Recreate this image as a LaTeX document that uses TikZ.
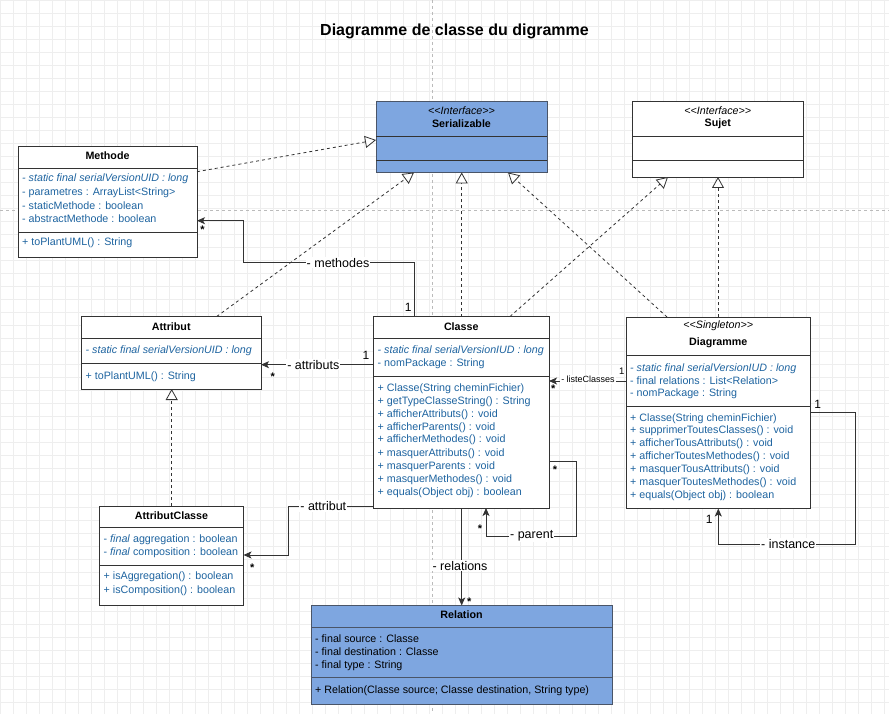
\documentclass[tikz,border=0pt]{standalone}
\usepackage{fontspec}
\setmainfont{Liberation Sans}
\usetikzlibrary{arrows.meta}
\definecolor{memc}{RGB}{30,100,160}
\definecolor{ifblue}{HTML}{7EA6E0}
\definecolor{bluebd}{HTML}{4A5568}
\definecolor{boxc}{HTML}{333333}
\definecolor{linec}{HTML}{333333}
\definecolor{gridc}{HTML}{EEEEEE}
\definecolor{pagec}{HTML}{BBBBBB}
\newcommand\mfont{\fontsize{10.7}{12}\selectfont}
\newcommand\lfont{\fontsize{12.5}{14}\selectfont}
\newcommand\mline[4]{\node[mem] (#1) at (#2,#3) {#4};}
\newcommand\bline[4]{\node[bmem] (#1) at (#2,#3) {#4};}
\tikzset{
  cls/.style={draw=boxc, line width=0.9pt, fill=white, inner sep=0pt, outer sep=0pt, anchor=north west},
  bluecls/.style={cls, fill=ifblue, draw=bluebd},
  sepline/.style={draw=boxc, line width=0.9pt},
  mem/.style={anchor=west, inner sep=0pt, font=\mfont, text=memc},
  bmem/.style={mem, text=black},
  cname/.style={inner sep=0pt, font=\mfont\bfseries},
  stereo/.style={inner sep=0pt, font=\mfont\itshape},
  gen/.style={draw=linec, line width=0.8pt, dash pattern=on 3pt off 3pt, -{Triangle[open, length=11pt, width=12pt, fill=white]}},
  assoc/.style={draw=linec, line width=0.9pt, -{Stealth[length=8pt, width=7pt, inset=2pt]}},
  lbl/.style={fill=white, inner sep=1pt, font=\lfont},
  slbl/.style={fill=white, inner sep=1pt, font=\fontsize{9}{10}\selectfont},
  mult/.style={inner sep=0pt, font=\fontsize{12}{14}\selectfont},
  smult/.style={inner sep=0pt, font=\fontsize{9.5}{11}\selectfont},
  star/.style={inner sep=0pt, font=\fontsize{11}{12}\selectfont\bfseries},
}
\begin{document}
\begin{tikzpicture}[x=1pt, y=-1pt]
\useasboundingbox (0,0) rectangle (889,714);
\fill[white] (0,0) rectangle (889,714);
\draw[gridc, line width=0.5pt, step=13pt] (0pt,-714pt) grid (889pt,0pt);
\draw[pagec, dashed, line width=0.6pt] (432,0) -- (432,714);
\draw[pagec, dashed, line width=0.6pt] (0,210) -- (889,210);

\node[font=\fontsize{16}{18}\selectfont\bfseries, inner sep=0pt] (title) at (454.5,31) {Diagramme de classe du digramme};

% Methode
\node[cls, minimum width=179, minimum height=111] (methode) at (18,146) {};
\node[cname] (methodeN) at (107.5,156) {Methode};
\draw[sepline] (18,168) -- (197,168);
\draw[sepline] (18,232) -- (197,232);
\mline{me1}{22}{179}{\itshape - static final serialVersionUID : long}
\mline{me2}{22}{193}{- parametres : ArrayList<String>}
\mline{me3}{22}{206}{- staticMethode : boolean}
\mline{me4}{22}{219}{- abstractMethode : boolean}
\mline{me5}{22}{243}{+ toPlantUML() : String}

% Serializable
\node[bluecls, minimum width=171, minimum height=71.5] (serial) at (376,101) {};
\node[stereo] (serialS) at (461.5,110.7) {<\kern0pt<Interface>\kern0pt>};
\node[cname] (serialN) at (461.5,123.5) {Serializable};
\draw[sepline] (376,136) -- (547,136);
\draw[sepline] (376,160) -- (547,160);

% Sujet
\node[cls, minimum width=171.5, minimum height=76] (sujet) at (632,101) {};
\node[stereo] (sujetS) at (717.75,110.7) {<\kern0pt<Interface>\kern0pt>};
\node[cname] (sujetN) at (717.75,123.5) {Sujet};
\draw[sepline] (632,136) -- (803.5,136);
\draw[sepline] (632,160.3) -- (803.5,160.3);

% Attribut
\node[cls, minimum width=179.5, minimum height=72.5] (attribut) at (81.5,316.5) {};
\node[cname] (attributN) at (171.25,326.7) {Attribut};
\draw[sepline] (81.5,338.3) -- (261,338.3);
\draw[sepline] (81.5,363.3) -- (261,363.3);
\mline{at1}{85.5}{350.7}{\itshape - static final serialVersionUID : long}
\mline{at2}{85.5}{376.7}{+ toPlantUML() : String}

% Classe
\node[cls, minimum width=175.5, minimum height=191.5] (classe) at (373.5,316.5) {};
\node[cname] (classeN) at (461.25,326.7) {Classe};
\draw[sepline] (373.5,338.3) -- (549,338.3);
\draw[sepline] (373.5,376) -- (549,376);
\mline{cl1}{377.5}{350.7}{\itshape - static final serialVersionIUD : long}
\mline{cl2}{377.5}{364}{- nomPackage : String}
\mline{cl3}{377.5}{389}{+ Classe(String cheminFichier)}
\mline{cl4}{377.5}{402}{+ getTypeClasseString() : String}
\mline{cl5}{377.5}{414.5}{+ afficherAttributs() : void}
\mline{cl6}{377.5}{427.3}{+ afficherParents() : void}
\mline{cl7}{377.5}{440}{+ afficherMethodes() : void}
\mline{cl8}{377.5}{453.3}{+ masquerAttributs() : void}
\mline{cl9}{377.5}{466.7}{+ masquerParents : void}
\mline{cl10}{377.5}{479.3}{+ masquerMethodes() : void}
\mline{cl11}{377.5}{492.3}{+ equals(Object obj) : boolean}

% Diagramme
\node[cls, minimum width=184.5, minimum height=191.5] (diagramme) at (626,317) {};
\node[stereo] (diagS) at (718.25,326) {<\kern0pt<Singleton>\kern0pt>};
\node[cname] (diagN) at (718.25,342.3) {Diagramme};
\draw[sepline] (626,355.3) -- (810.5,355.3);
\draw[sepline] (626,406.7) -- (810.5,406.7);
\mline{dg1}{630}{368.3}{\itshape - static final serialVersionIUD : long}
\mline{dg2}{630}{380.5}{- final relations : List<Relation>}
\mline{dg3}{630}{394}{- nomPackage : String}
\mline{dg4}{630}{418.3}{+ Classe(String cheminFichier)}
\mline{dg5}{630}{431.2}{+ supprimerToutesClasses() : void}
\mline{dg6}{630}{444}{+ afficherTousAttributs() : void}
\mline{dg7}{630}{456.9}{+ afficherToutesMethodes() : void}
\mline{dg8}{630}{469.7}{+ masquerTousAttributs() : void}
\mline{dg9}{630}{482.6}{+ masquerToutesMethodes() : void}
\mline{dg10}{630}{495.4}{+ equals(Object obj) : boolean}

% AttributClasse
\node[cls, minimum width=144, minimum height=99] (attrcls) at (99.5,506) {};
\node[cname] (attrclsN) at (171.5,515.5) {AttributClasse};
\draw[sepline] (99.5,527.7) -- (243.5,527.7);
\draw[sepline] (99.5,565.7) -- (243.5,565.7);
\mline{ac1}{103.5}{539.5}{- \textit{final} aggregation : boolean}
\mline{ac2}{103.5}{553}{- \textit{final} composition : boolean}
\mline{ac3}{103.5}{577}{+ isAggregation() : boolean}
\mline{ac4}{103.5}{591}{+ isComposition() : boolean}

% Relation
\node[bluecls, minimum width=301, minimum height=99] (relation) at (311,605.5) {};
\node[cname] (relationN) at (461.5,614.5) {Relation};
\draw[sepline, draw=bluebd] (311,627.3) -- (612,627.3);
\draw[sepline, draw=bluebd] (311,677.3) -- (612,677.3);
\bline{rl1}{315}{638.5}{- final source : Classe}
\bline{rl2}{315}{652}{- final destination : Classe}
\bline{rl3}{315}{665.5}{- final type : String}
\bline{rl4}{315}{690.7}{+ Relation(Classe source; Classe destination, String type)}

% Generalisations / realisations
\draw[gen] (methode.east |- 0,171.7) -- (serial.west |- 0,140);
\draw[gen] (attribut.north -| 216.7,0) -- (serial.south -| 414,0);
\draw[gen] (classe.north -| 461.7,0) -- (serial.south -| 461.7,0);
\draw[gen] (diagramme.north -| 667,0) -- (serial.south -| 508,0);
\draw[gen] (classe.north -| 510,0) -- (sujet.south -| 668,0);
\draw[gen] (diagramme.north -| 718,0) -- (sujet.south -| 718,0);
\draw[gen] (attrcls.north -| 171.7,0) -- (attribut.south -| 171.7,0);

% Associations
\draw[assoc] (classe.north -| 414,0) |- (243,262.7) |- (methode.east |- 0,220.7);
\node[lbl] (lmeth) at (338,262.7) {- methodes};
\node[mult] (mmeth1) at (408.3,307.3) {1};
\node[star] (mmeth2) at (202.5,229.5) {*};

\draw[assoc] (classe.west |- 0,364.7) -- (attribut.east |- 0,364.7);
\node[lbl] (lattr) at (313.3,364.7) {- attributs};
\node[mult] (mattr1) at (366,355) {1};
\node[star] (mattr2) at (272.7,376.5) {*};

\draw[assoc] (diagramme.west |- 0,381) -- (classe.east |- 0,381);
\node[slbl] (lliste) at (588,379.5) {- listeClasses};
\node[smult] (mliste1) at (621.7,371.5) {1};
\node[star] (mliste2) at (553.3,389) {*};

\draw[assoc] (classe.east |- 0,461) -| (576,536) -| (classe.south -| 486,0);
\node[lbl] (lpar) at (531.7,536) {- parent};
\node[star] (mpar1) at (555,469.8) {*};
\node[star] (mpar2) at (480,529.2) {*};

\draw[assoc] (classe.south -| 461.7,0) -- (relation.north -| 461.7,0);
\node[lbl] (lrel) at (460,565.7) {- relations};
\node[star] (mrel) at (469.3,601.5) {*};

\draw[assoc] (classe.west |- 0,506) -| (288.3,555) -- (attrcls.east |- 0,555);
\node[lbl] (lattrc) at (323.3,506) {- attribut};
\node[star] (mattrc) at (252.3,567.5) {*};

\draw[assoc] (diagramme.east |- 0,412.7) -| (855,544) -| (diagramme.south -| 718.3,0);
\node[lbl] (linst) at (788.3,544) {- instance};
\node[mult] (minst1) at (817.7,404) {1};
\node[mult] (minst2) at (709.3,519.3) {1};
\end{tikzpicture}
\end{document}
